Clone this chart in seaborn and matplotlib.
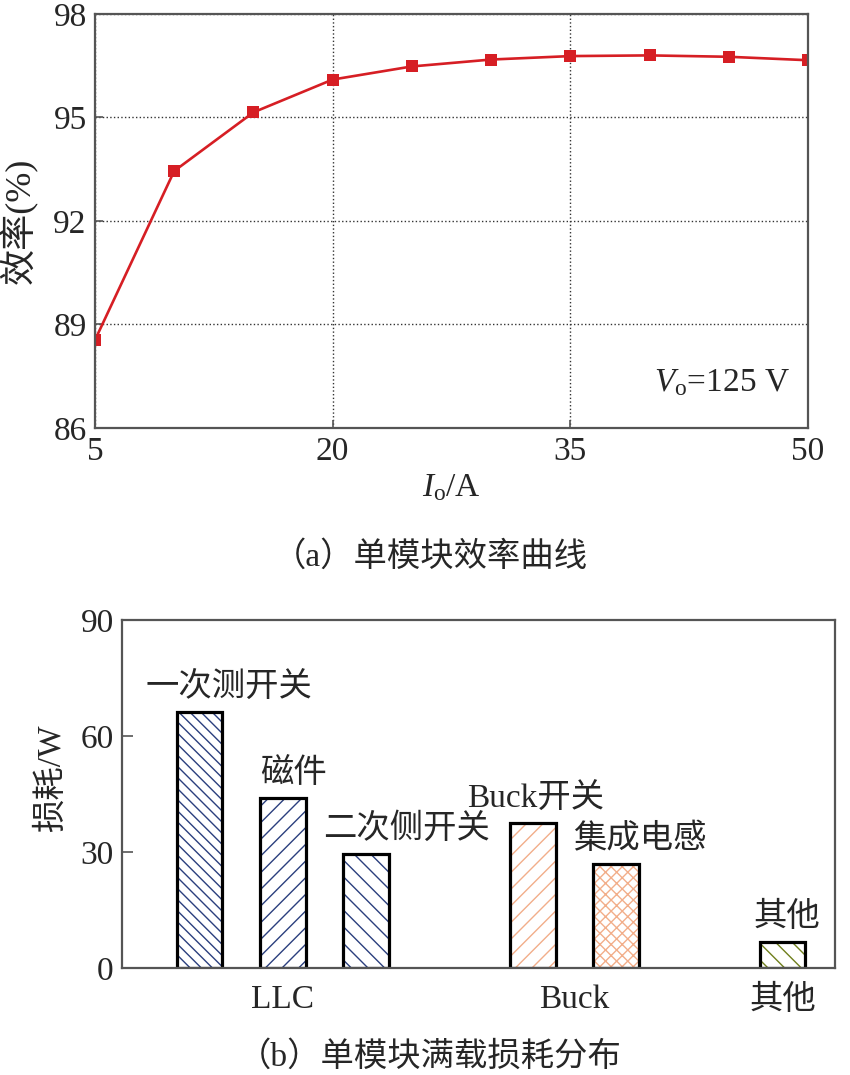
import matplotlib
matplotlib.use("Agg")
import matplotlib.pyplot as plt
import numpy as np
import pandas as pd
import seaborn as sns

# ---------------- data ----------------
current_A = [5, 10, 15, 20, 25, 30, 35, 40, 45, 50]
efficiency_pct = [88.55, 93.45, 95.15, 96.1, 96.48, 96.68, 96.78, 96.8, 96.76, 96.66]
x_ticks_a = [5, 20, 35, 50]
y_ticks_a = [86, 89, 92, 95, 98]

loss_items = ["一次测开关", "磁件", "二次侧开关", "Buck开关", "集成电感", "其他"]
loss_groups = ["LLC", "LLC", "LLC", "Buck", "Buck", "其他"]
loss_W = [66.3, 44.0, 29.6, 37.4, 26.9, 6.8]
y_ticks_b = [0, 30, 60, 90]

# ---------------- styles ----------------
hatches = ["\\\\\\", "//", "\\\\", "//", "xxx", "\\\\"]
hatch_colors = ["#2b3f7e", "#2b3f7e", "#2b3f7e", "#f2ae8a", "#f2ae8a", "#6f7f1c"]
label_dx = [0.35, 0.13, 0.49, 0.04, 0.29, 0.05]

sns.set_style("ticks")
plt.rcParams["font.family"] = ["Liberation Serif", "Noto Sans CJK SC", "DejaVu Sans"]
plt.rcParams["mathtext.fontset"] = "custom"
plt.rcParams["mathtext.rm"] = "Liberation Serif"
plt.rcParams["mathtext.it"] = "Liberation Serif:italic"
plt.rcParams["hatch.linewidth"] = 1.0
MIX = ["Liberation Serif", "Noto Sans CJK SC", "DejaVu Sans"]
SPINE = "#555555"

W, H = 850, 1075
fig = plt.figure(figsize=(W / 100, H / 100), dpi=100)
ax1 = fig.add_axes([95 / W, 1 - 428 / H, 713 / W, 414 / H])
ax2 = fig.add_axes([122 / W, 1 - 968 / H, 713 / W, 348 / H])

# ---------------- (a) efficiency curve ----------------
df_a = pd.DataFrame({"I": current_A, "eff": efficiency_pct})
sns.lineplot(data=df_a, x="I", y="eff", ax=ax1, color="#d61e24", lw=1.9,
             marker="s", markersize=9, markeredgewidth=0)
ax1.set_xlim(5, 50)
ax1.set_ylim(86, 98)
ax1.set_xticks(x_ticks_a)
ax1.set_yticks(y_ticks_a)
ax1.grid(True, ls=":", color="#333333", lw=1.0)
ax1.tick_params(direction="in", length=6, width=1.2, color=SPINE,
                labelsize=24, pad=6)
for s in ax1.spines.values():
    s.set_color(SPINE)
    s.set_linewidth(1.6)
ax1.set_xlabel(r"$I_{\mathrm{o}}$/A", fontsize=24, labelpad=4)
ax1.set_ylabel("效率(%)", fontsize=26, family=MIX, fontweight="medium")
ax1.yaxis.set_label_coords(-0.08, 0.5)
ax1.text(0.975, 0.11, r"$V_{\mathrm{o}}$=125 V", transform=ax1.transAxes,
         ha="right", va="center", fontsize=24)

fig.text(430 / W, 1 - 557 / H, "（a）单模块效率曲线", ha="center", va="center",
         fontsize=24, family=MIX, fontweight="light")

# ---------------- (b) loss distribution ----------------
# category order with an empty slot between groups
order = []
for i, it in enumerate(loss_items):
    if i > 0 and loss_groups[i] != loss_groups[i - 1]:
        order.append(" " * i)
    order.append(it)

df_b = pd.DataFrame({"item": loss_items, "group": loss_groups, "loss": loss_W})

sns.barplot(data=df_b, x="item", y="loss", order=order, ax=ax2, width=0.55,
            color="white", linewidth=0, errorbar=None, saturation=1)
for p in list(ax2.patches):
    idx = loss_items.index(order[int(round(p.get_x() + p.get_width() / 2))])
    p.set_facecolor("white")
    p.set_hatch(hatches[idx])
    p.set_edgecolor(hatch_colors[idx])
    p.set_linewidth(0)

sns.barplot(data=df_b, x="item", y="loss", order=order, ax=ax2, width=0.55,
            color="black", fill=False, linewidth=2.3, errorbar=None)

ax2.set_xlim(-0.93, 7.63)
ax2.set_ylim(0, 90)
ax2.set_yticks(y_ticks_b)

group_names = list(dict.fromkeys(loss_groups))
centres = [np.mean([order.index(it) for it, g in zip(loss_items, loss_groups) if g == gn])
           for gn in group_names]
ax2.set_xticks(centres)
ax2.set_xticklabels(group_names, family=MIX)
ax2.tick_params(axis="x", length=0, labelsize=24, pad=12)
ax2.tick_params(axis="y", direction="in", length=8, width=1.2, color=SPINE,
                labelsize=24, pad=6)
for s in ax2.spines.values():
    s.set_color(SPINE)
    s.set_linewidth(1.6)
ax2.set_xlabel("")
ax2.set_ylabel("损耗/W", fontsize=24, family=MIX, fontweight="medium")
ax2.yaxis.set_label_coords(-0.077, 0.546)

for i, (it, v) in enumerate(zip(loss_items, loss_W)):
    ax2.text(order.index(it) + label_dx[i], v + 6.3, it, ha="center", va="center",
             fontsize=24, family=MIX, fontweight="medium")

fig.text(430 / W, 1 - 1057 / H, "（b）单模块满载损耗分布", ha="center", va="center",
         fontsize=24, family=MIX, fontweight="light")

fig.savefig("out.png", dpi=100)
